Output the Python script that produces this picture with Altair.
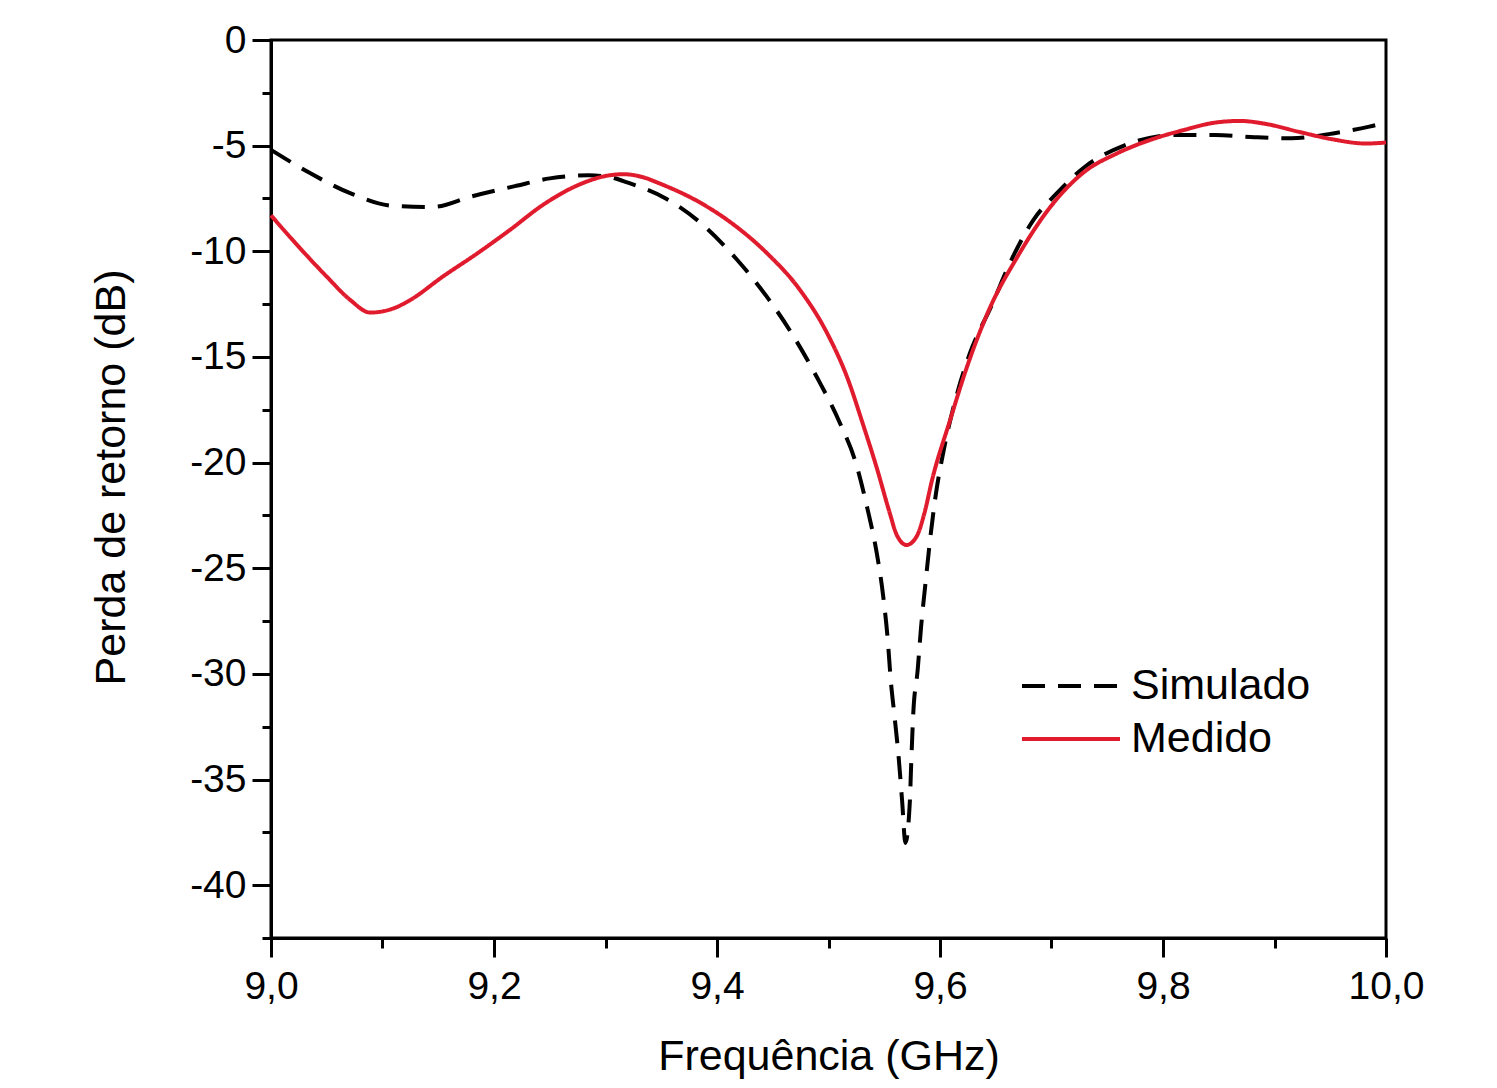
import altair as alt
import pandas as pd

# ---- data ----
sim_f = [9.000, 9.035, 9.071, 9.110, 9.145, 9.180, 9.220, 9.250, 9.285, 9.305, 9.320,
         9.354, 9.384, 9.418, 9.444, 9.466, 9.490, 9.510, 9.525, 9.535, 9.543, 9.549,
         9.553, 9.556, 9.559, 9.563, 9.566, 9.569, 9.573, 9.574, 9.576, 9.580, 9.583,
         9.587, 9.591, 9.596, 9.603, 9.614, 9.627, 9.646, 9.665, 9.684, 9.704, 9.730,
         9.765, 9.810, 9.847, 9.882, 9.915, 9.955, 9.985, 10.000]
sim_db = [-5.2, -6.3, -7.25, -7.85, -7.9, -7.4, -6.9, -6.55, -6.4, -6.5, -6.75,
          -7.5, -8.6, -10.4, -12.1, -13.8, -16.0, -18.1, -20.1, -22.2, -24.2, -26.3,
          -28.3, -30.4, -31.9, -34.0, -36.0, -38.0, -36.0, -34.5, -31.9, -29.8, -27.8,
          -25.7, -23.7, -21.6, -19.5, -17.0, -14.8, -12.6, -10.3, -8.5, -7.3, -6.0,
          -5.0, -4.5, -4.5, -4.6, -4.65, -4.4, -4.1, -3.9]

med_f = [9.000, 9.020, 9.050, 9.071, 9.089, 9.110, 9.125, 9.154, 9.185, 9.214, 9.244,
         9.274, 9.304, 9.316, 9.334, 9.349, 9.385, 9.414, 9.445, 9.474, 9.499, 9.517,
         9.531, 9.543, 9.555, 9.561, 9.570, 9.579, 9.586, 9.593, 9.609, 9.624, 9.645,
         9.669, 9.699, 9.728, 9.759, 9.788, 9.818, 9.848, 9.869, 9.893, 9.923, 9.952,
         9.982, 10.000]
med_db = [-8.3, -9.5, -11.2, -12.3, -12.9, -12.7, -12.3, -11.2, -10.1, -9.0, -7.8,
          -6.9, -6.4, -6.35, -6.5, -6.8, -7.7, -8.7, -10.1, -11.8, -13.9, -16.0,
          -18.2, -20.2, -22.4, -23.4, -23.9, -23.5, -22.4, -20.8, -18.0, -15.5, -12.65,
          -10.3, -7.9, -6.3, -5.36, -4.74, -4.27, -3.9, -3.83, -3.98, -4.36, -4.7,
          -4.9, -4.85]

series_names = ["Simulado", "Medido"]
series_colors = ["#000000", "#e01b2d"]
series_dash = [[23, 13], [1, 0]]

x_ticks = [round(9.0 + 0.1 * i, 1) for i in range(11)]
y_ticks = [-2.5 * i for i in range(18)]

df = pd.concat([
    pd.DataFrame({"f": sim_f, "db": sim_db, "serie": series_names[0]}),
    pd.DataFrame({"f": med_f, "db": med_db, "serie": series_names[1]}),
])

FONT = "Liberation Sans"

legend = alt.Legend(
    title=None, orient="none", legendX=749, legendY=626,
    symbolType="stroke", symbolSize=9604, symbolStrokeWidth=4,
    labelFontSize=43, labelFont=FONT, labelColor="black", labelOffset=9,
    labelLimit=400, clipHeight=40, rowPadding=10, padding=0,
)

chart = alt.Chart(df).mark_line(strokeWidth=4, interpolate="monotone").encode(
    x=alt.X("f:Q",
            scale=alt.Scale(domain=[9.0, 10.0], nice=False, zero=False),
            axis=alt.Axis(
                title="Frequência (GHz)", values=x_ticks, grid=False, labelFlush=False,
                labelExpr="round(datum.value*10) % 2 == 0 ? replace(format(datum.value, '.1f'), '.', ',') : ''",
                tickSize={"condition": {"test": "round(datum.value*10) % 2 == 0", "value": 19}, "value": 10},
                labelPadding=10, titlePadding=29,
            )),
    y=alt.Y("db:Q",
            scale=alt.Scale(domain=[-42.5, 0], nice=False, zero=False),
            axis=alt.Axis(
                title="Perda de retorno (dB)", values=y_ticks, grid=False, labelFlush=False,
                labelExpr="round(datum.value*2) % 2 == 0 ? '' + datum.value : ''",
                tickSize={"condition": {"test": "round(datum.value*2) % 2 == 0", "value": 19}, "value": 9},
                labelPadding=6, titlePadding=56, titleY=437,
            )),
    color=alt.Color("serie:N", scale=alt.Scale(domain=series_names, range=series_colors), legend=legend),
    strokeDash=alt.StrokeDash("serie:N", scale=alt.Scale(domain=series_names, range=series_dash), legend=legend),
).properties(
    width=1115, height=898,
    background="white",
    autosize=alt.AutoSizeParams(type="none"),
    padding={"left": 263, "top": 32, "right": 60, "bottom": 150},
).configure_axis(
    domainColor="black", domainWidth=3, tickColor="black", tickWidth=3,
    labelFont=FONT, labelFontSize=39, labelColor="black",
    titleFont=FONT, titleFontSize=43, titleFontWeight="normal", titleColor="black",
).configure_view(
    stroke="black", strokeWidth=3,
)

chart.save("out.html", embed_options={"renderer": "svg", "actions": False})
